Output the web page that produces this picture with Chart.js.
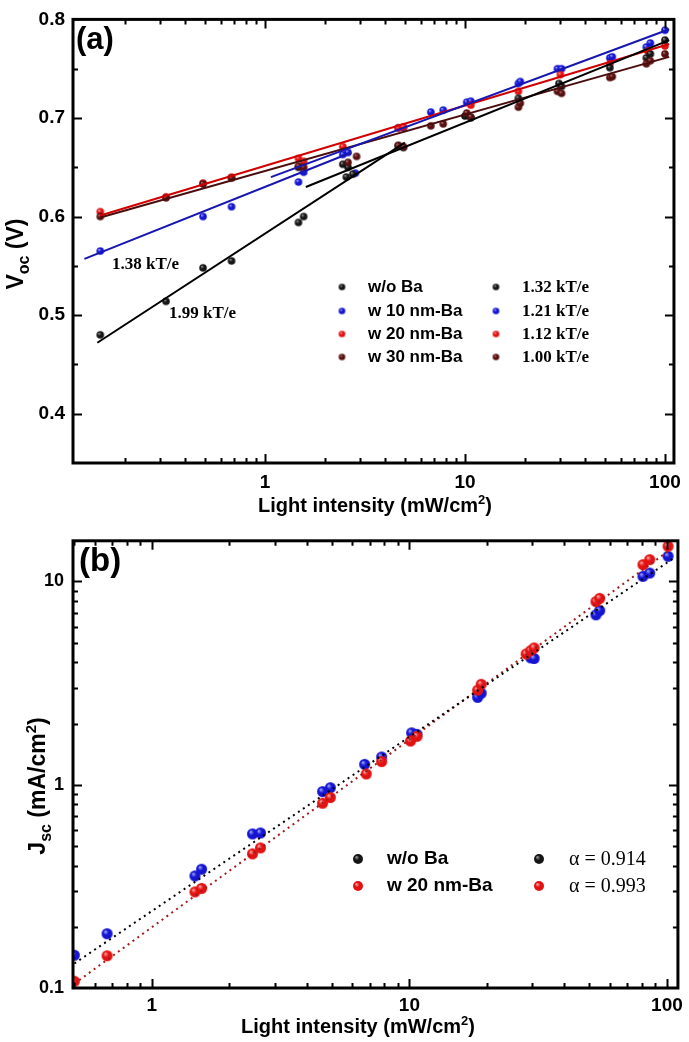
<!DOCTYPE html>
<html>
<head>
<meta charset="utf-8">
<script src="https://cdn.jsdelivr.net/npm/chart.js@4.4.1/dist/chart.umd.min.js"></script>
<style>
  body { margin: 0; background: #fff; }
  #wrap { position: relative; width: 689px; height: 1042px; }
  canvas { position: absolute; left: 0; }
</style>
</head>
<body>
<div id="wrap">
  <canvas id="chartA" width="689" height="521" style="top:0"></canvas>
  <canvas id="chartB" width="689" height="521" style="top:521px"></canvas>
</div>
<script>
// ---- panel (a): Voc vs light intensity ----
const vocWoBaX = [0.15, 0.32, 0.49, 0.68, 1.47, 1.56, 1.47, 2.45, 2.6, 2.55, 2.75, 4.64, 4.92, 10.0, 10.7, 18.5, 29.5, 30.4, 53, 80.7, 84.5, 100];
const vocWoBaY = [0.480, 0.514, 0.548, 0.555, 0.594, 0.600, 0.650, 0.653, 0.650, 0.640, 0.643, 0.672, 0.670, 0.702, 0.700, 0.720, 0.735, 0.732, 0.751, 0.761, 0.765, 0.779];
const voc10X = [0.15, 0.49, 0.68, 1.47, 1.56, 2.45, 2.6, 2.83, 4.64, 4.92, 6.75, 7.78, 10.2, 10.7, 18.5, 18.9, 29, 30.4, 53, 54.5, 80.7, 84.5, 100];
const voc10Y = [0.565, 0.600, 0.610, 0.635, 0.645, 0.663, 0.665, 0.644, 0.690, 0.690, 0.706, 0.708, 0.716, 0.717, 0.735, 0.737, 0.750, 0.750, 0.761, 0.762, 0.772, 0.776, 0.789];
const voc20X = [0.15, 0.32, 0.49, 0.68, 1.47, 1.56, 2.45, 4.64, 4.92, 10.7, 18.5, 30, 53, 82, 100];
const voc20Y = [0.605, 0.620, 0.634, 0.640, 0.659, 0.656, 0.671, 0.690, 0.691, 0.713, 0.727, 0.744, 0.755, 0.768, 0.773];
const voc30X = [0.15, 0.32, 0.49, 0.68, 1.47, 1.56, 2.6, 2.87, 4.64, 4.92, 6.75, 7.78, 10.2, 10.7, 18.5, 18.9, 29, 30.4, 53, 54.5, 80.7, 84.5, 100];
const voc30Y = [0.600, 0.619, 0.633, 0.639, 0.651, 0.650, 0.655, 0.661, 0.672, 0.671, 0.692, 0.694, 0.705, 0.701, 0.711, 0.715, 0.727, 0.725, 0.741, 0.742, 0.755, 0.758, 0.765];
// fitted lines (end points)
const fitWoBaLowX = [0.145, 5.0],  fitWoBaLowY = [0.472, 0.675];
const fitWoBaHighX = [1.6, 105],   fitWoBaHighY = [0.630, 0.779];
const fit10LowX = [0.125, 2.7],    fit10LowY = [0.557, 0.665];
const fit10HighX = [1.07, 105],    fit10HighY = [0.640, 0.790];
const fit20X = [0.15, 105],        fit20Y = [0.601, 0.775];
const fit30X = [0.15, 105],        fit30Y = [0.599, 0.762];
const legendA = ['w/o Ba', 'w 10 nm-Ba', 'w 20 nm-Ba', 'w 30 nm-Ba'];
const slopesA = ['1.32 kT/e', '1.21 kT/e', '1.12 kT/e', '1.00 kT/e'];
const xTicksA = [1, 10, 100];
const yTicksA = [0.4, 0.5, 0.6, 0.7, 0.8];

// ---- panel (b): Jsc vs light intensity ----
const jscWoBaX = [0.5, 0.67, 1.47, 1.56, 2.46, 2.64, 4.6, 4.93, 6.7, 7.8, 10.2, 10.7, 18.4, 19.0, 29.6, 30.5, 53, 54.8, 80.7, 85.7, 101];
const jscWoBaY = [0.145, 0.185, 0.356, 0.384, 0.573, 0.579, 0.925, 0.967, 1.26, 1.37, 1.80, 1.77, 2.69, 2.82, 4.21, 4.18, 6.85, 7.19, 10.6, 11.0, 13.3];
const jsc20X = [0.5, 0.67, 1.47, 1.56, 2.46, 2.64, 4.6, 4.93, 6.8, 7.8, 10.1, 10.7, 18.4, 19.0, 28.4, 29.6, 30.5, 53, 54.8, 80.7, 85.7, 101];
const jsc20Y = [0.108, 0.144, 0.297, 0.309, 0.457, 0.489, 0.811, 0.865, 1.13, 1.30, 1.64, 1.73, 2.92, 3.12, 4.40, 4.57, 4.71, 7.96, 8.26, 12.1, 12.8, 14.9];
const fitJWoBaX = [0.5, 105], fitJWoBaY = [0.132, 12.9];
const fitJ20X = [0.5, 102],   fitJ20Y = [0.105, 14.2];
const legendB = ['w/o Ba', 'w 20 nm-Ba'];
const alphaB = ['\u03b1 = 0.914', '\u03b1 = 0.993'];
const xTicksB = [1, 10, 100];
const yTicksB = [0.1, 1, 10];

const zip = (xs, ys) => xs.map((x, i) => ({ x: x, y: ys[i] }));
const SANS = "'Liberation Sans', Arial, sans-serif";
const SERIF = "'Liberation Serif', 'Times New Roman', serif";

// shaded ball marker
function ball(base, hi, r) {
    const s = Math.ceil(r * 2 + 2);
    const c = document.createElement('canvas');
    c.width = c.height = s;
    const g = c.getContext('2d');
    const m = s / 2;
    const grad = g.createRadialGradient(m - r * 0.35, m - r * 0.4, r * 0.05, m, m, r);
    grad.addColorStop(0, hi);
    grad.addColorStop(0.45, base);
    grad.addColorStop(1, base);
    g.fillStyle = grad;
    g.beginPath();
    g.arc(m, m, r, 0, Math.PI * 2);
    g.fill();
    return c;
}

const colBlack = ['#151515', '#9a9a9a'];
const colBlue = ['#1414d2', '#a0a8ff'];
const colRed = ['#e31212', '#ffa8a8'];
const colMaroon = ['#561010', '#b87070'];

// minor tick values for log axes
function logMinor(lo, hi) {
    const out = [];
    for (let d = 0.01; d <= 1000; d *= 10) {
        for (let k = 1; k <= 9; k++) {
            const v = +(k * d).toPrecision(3);
            if (v > lo * 1.01 && v < hi * 0.99) out.push({ v: v, major: k === 1 });
        }
    }
    return out;
}

// frame with inward ticks on all sides
const framePlugin = {
    id: 'frame',
    afterDatasetsDraw(chart, args, opts) {
        const { ctx, chartArea: a, scales } = chart;
        ctx.save();
        ctx.strokeStyle = '#000';
        ctx.lineWidth = 2;
        ctx.beginPath();
        opts.xTicks.forEach(t => {
            const px = Math.round(scales.x.getPixelForValue(t.v)) + 0.5;
            const len = t.major ? 9 : 5;
            ctx.moveTo(px, a.bottom); ctx.lineTo(px, a.bottom - len);
            ctx.moveTo(px, a.top); ctx.lineTo(px, a.top + len);
        });
        opts.yTicks.forEach(t => {
            const py = Math.round(scales.y.getPixelForValue(t.v)) + 0.5;
            const len = t.major ? 9 : 5;
            ctx.moveTo(a.left, py); ctx.lineTo(a.left + len, py);
            ctx.moveTo(a.right, py); ctx.lineTo(a.right - len, py);
        });
        ctx.stroke();
        ctx.lineWidth = 3;
        ctx.strokeRect(a.left, a.top, a.right - a.left, a.bottom - a.top);
        ctx.restore();
    }
};

// text made of pieces (sub/superscripts), centred on (x, y) baseline
function richText(ctx, parts, x, y, rotate) {
    ctx.save();
    ctx.translate(x, y);
    if (rotate) ctx.rotate(-Math.PI / 2);
    ctx.fillStyle = '#000';
    ctx.textBaseline = 'alphabetic';
    ctx.textAlign = 'left';
    let w = 0;
    parts.forEach(p => { ctx.font = p.font; w += ctx.measureText(p.t).width; });
    let cx = -w / 2;
    parts.forEach(p => {
        ctx.font = p.font;
        ctx.fillText(p.t, cx, p.dy || 0);
        cx += ctx.measureText(p.t).width;
    });
    ctx.restore();
}

function text(ctx, t, x, y, font) {
    ctx.save();
    ctx.font = font;
    ctx.fillStyle = '#000';
    ctx.textBaseline = 'middle';
    ctx.textAlign = 'left';
    ctx.fillText(t, x, y);
    ctx.restore();
}

function pointSet(xs, ys, col, r) {
    return { data: zip(xs, ys), pointStyle: ball(col[0], col[1], r), pointRadius: r, showLine: false, order: 2 };
}
function lineSet(xs, ys, color, dash) {
    return { data: zip(xs, ys), showLine: true, pointRadius: 0, borderColor: color, borderWidth: 2,
             borderDash: dash || [], order: 1 };
}

function axisOpts(min, max, ticks, fontSize, pad, fitSize, isY, fmt) {
    return {
        type: isY && !fmt ? 'linear' : 'logarithmic',
        min: min, max: max,
        grid: { display: false, drawTicks: false },
        border: { display: false },
        afterBuildTicks: s => { s.ticks = ticks.map(v => ({ value: v })); },
        afterFit: s => { if (isY) s.width = fitSize; else s.height = fitSize; },
        ticks: {
            autoSkip: false, maxRotation: 0, padding: pad, color: '#000',
            font: { family: SANS, weight: 'bold', size: fontSize },
            callback: v => fmt ? fmt(v) : v.toFixed(1)
        }
    };
}

// ---------- chart (a) ----------
const ballA = 3.8;
new Chart(document.getElementById('chartA'), {
    type: 'scatter',
    data: {
        datasets: [
            lineSet(fitWoBaLowX, fitWoBaLowY, '#000'),
            lineSet(fitWoBaHighX, fitWoBaHighY, '#000'),
            lineSet(fit10LowX, fit10LowY, '#1616b0'),
            lineSet(fit10HighX, fit10HighY, '#1616b0'),
            lineSet(fit20X, fit20Y, '#d00000'),
            lineSet(fit30X, fit30Y, '#4a0c0c'),
            pointSet(voc30X, voc30Y, colMaroon, ballA),
            pointSet(vocWoBaX, vocWoBaY, colBlack, ballA),
            pointSet(voc20X, voc20Y, colRed, ballA),
            pointSet(voc10X, voc10Y, colBlue, ballA)
        ]
    },
    options: {
        responsive: false,
        devicePixelRatio: 1,
        animation: false,
        layout: { padding: { top: 13, right: 12, left: 0, bottom: 0 } },
        plugins: {
            legend: { display: false },
            tooltip: { enabled: false },
            frame: {
                xTicks: logMinor(0.1096, 110.9),
                yTicks: [0.4, 0.45, 0.5, 0.55, 0.6, 0.65, 0.7, 0.75].map(v => ({ v: v, major: Math.abs(v * 10 - Math.round(v * 10)) < 1e-6 }))
            }
        },
        scales: {
            x: axisOpts(0.1096, 110.9, xTicksA, 19, 8, 58, false, v => String(v)),
            y: axisOpts(0.35, 0.8, yTicksA, 19, 8, 73, true)
        }
    },
    plugins: [framePlugin, {
        id: 'textsA',
        afterDraw(chart) {
            const ctx = chart.ctx;
            const B = 'bold 23px ' + SANS, S = 'bold 16px ' + SANS;
            richText(ctx, [{ t: 'V', font: B }, { t: 'oc', font: S, dy: 6 }, { t: ' (V)', font: B }], 23, 254, true);
            richText(ctx, [{ t: 'Light intensity (mW/cm', font: 'bold 20px ' + SANS },
                           { t: '2', font: 'bold 13px ' + SANS, dy: -8 },
                           { t: ')', font: 'bold 20px ' + SANS }], 375, 512, false);
            text(ctx, '(a)', 76, 40, 'bold 31px ' + SANS);
            text(ctx, '1.38 kT/e', 112, 265, 'bold 17px ' + SERIF);
            text(ctx, '1.99 kT/e', 169, 314, 'bold 17px ' + SERIF);
            const cols = [colBlack, colBlue, colRed, colMaroon];
            const rows = [287, 311, 334, 357];
            rows.forEach((y, i) => {
                const b = ball(cols[i][0], cols[i][1], 3.3);
                ctx.drawImage(b, 342 - b.width / 2, y - b.height / 2);
                ctx.drawImage(b, 496 - b.width / 2, y - b.height / 2);
                text(ctx, legendA[i], 368, y, 'bold 17px ' + SANS);
                text(ctx, slopesA[i], 522, y + 1, 'bold 17px ' + SERIF);
            });
        }
    }]
});

// ---------- chart (b) ----------
const ballB = 5.5;
new Chart(document.getElementById('chartB'), {
    type: 'scatter',
    data: {
        datasets: [
            lineSet(fitJWoBaX, fitJWoBaY, '#000', [2, 4]),
            lineSet(fitJ20X, fitJ20Y, '#a31a1a', [2, 4]),
            pointSet(jsc20X, jsc20Y, colRed, ballB),
            pointSet(jscWoBaX, jscWoBaY, colBlue, ballB)
        ]
    },
    options: {
        responsive: false,
        devicePixelRatio: 1,
        animation: false,
        layout: { padding: { top: 16, right: 10, left: 0, bottom: 0 } },
        plugins: {
            legend: { display: false },
            tooltip: { enabled: false },
            frame: {
                xTicks: logMinor(0.494, 110.3),
                yTicks: logMinor(0.1, 15.85)
            }
        },
        scales: {
            x: axisOpts(0.494, 110.3, xTicksB, 19, 6, 54, false, v => String(v)),
            y: axisOpts(0.1, 15.85, yTicksB, 18, 9, 73, true, v => String(v))
        }
    },
    plugins: [framePlugin, {
        id: 'textsB',
        afterDraw(chart) {
            const ctx = chart.ctx;
            const B = 'bold 23px ' + SANS, S = 'bold 16px ' + SANS;
            richText(ctx, [{ t: 'J', font: B }, { t: 'sc', font: S, dy: 6 }, { t: ' (mA/cm', font: B },
                           { t: '2', font: 'bold 15px ' + SANS, dy: -9 }, { t: ')', font: B }], 45, 786 - 521, true);
            richText(ctx, [{ t: 'Light intensity (mW/cm', font: 'bold 20px ' + SANS },
                           { t: '2', font: 'bold 13px ' + SANS, dy: -8 },
                           { t: ')', font: 'bold 20px ' + SANS }], 358, 1033 - 521, false);
            text(ctx, '(b)', 79, 562 - 521, 'bold 33px ' + SANS);
            const cols = [colBlack, colRed];
            const rows = [859 - 521, 886 - 521];
            rows.forEach((y, i) => {
                const b = ball(cols[i][0], cols[i][1], 5);
                ctx.drawImage(b, 358 - b.width / 2, y - b.height / 2);
                ctx.drawImage(b, 539 - b.width / 2, y - b.height / 2);
                text(ctx, legendB[i], 387, y, 'bold 19px ' + SANS);
                text(ctx, alphaB[i], 569, y + 1, '20px ' + SERIF);
            });
        }
    }]
});
</script>
</body>
</html>
